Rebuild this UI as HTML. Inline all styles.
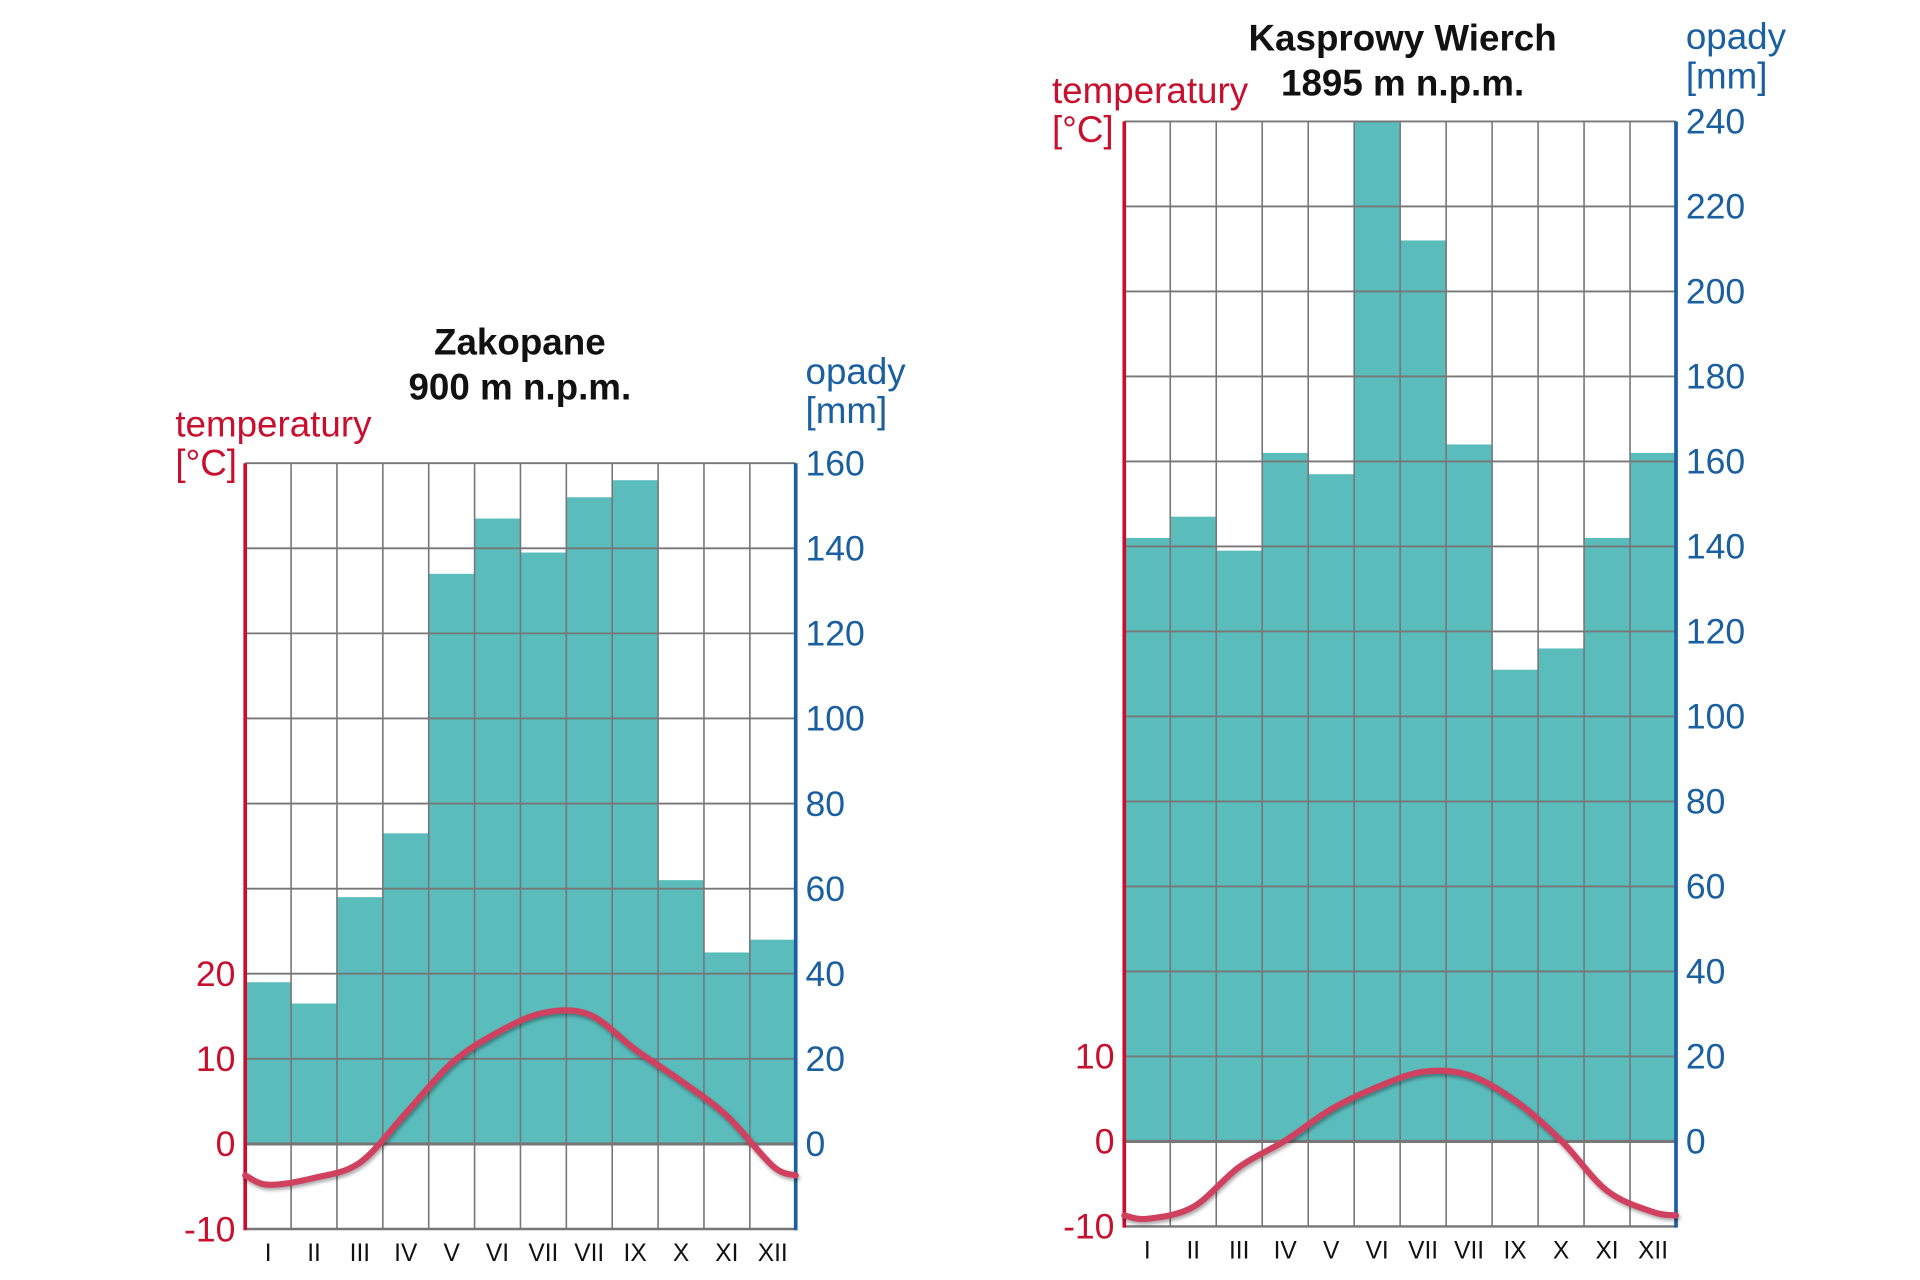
<!DOCTYPE html>
<html><head><meta charset="utf-8"><style>
html,body{margin:0;padding:0;background:#fff;}
svg{display:block;font-family:"Liberation Sans",sans-serif;}
</style></head><body>
<svg id="chart" width="1920" height="1280" viewBox="0 0 1566 1044" preserveAspectRatio="none" xmlns="http://www.w3.org/2000/svg">
<defs><filter id="sh" x="-5%" y="-20%" width="110%" height="140%"><feDropShadow dx="1" dy="2" stdDeviation="1.5" flood-color="#000" flood-opacity="0.35"/></filter></defs>
</svg>
<script>
const months = ["I","II","III","IV","V","VI","VII","VII","IX","X","XI","XII"];
const zakPrecip = [38, 33, 58, 73, 134, 147, 139, 152, 156, 62, 45, 48];
const zakTemp = [-4.8, -4.0, -2.2, 3.6, 9.5, 13.1, 15.4, 15.2, 11.1, 7.4, 3.3, -2.6];
const zakPrecipTicks = [0, 20, 40, 60, 80, 100, 120, 140, 160];
const zakTempTicks = [-10, 0, 10, 20];
const kasPrecip = [142, 147, 139, 162, 157, 240, 212, 164, 111, 116, 142, 162];
const kasTemp = [-9.1, -7.7, -3.0, 0.1, 3.8, 6.4, 8.2, 7.8, 4.8, 0.1, -5.8, -8.3];
const kasPrecipTicks = [0, 20, 40, 60, 80, 100, 120, 140, 160, 180, 200, 220, 240];
const kasTempTicks = [-10, 0, 10];

const NS = "http://www.w3.org/2000/svg";
const svg = document.getElementById("chart");
function mk(tag, attrs, parent){const e=document.createElementNS(NS,tag);for(const k in attrs)e.setAttribute(k,attrs[k]);(parent||svg).appendChild(e);return e;}

function drawChart(cfg){
  const g = mk("g",{});
  
  
  const L=cfg.left,R=cfg.right,y0=cfg.y0,pxPer=cfg.pxPer20/20;
  const maxMm=cfg.pTicks[cfg.pTicks.length-1];
  const top=y0-maxMm*pxPer, bottom=y0+20*pxPer;
  const cw=(R-L)/12;
  const yP=v=>y0-v*pxPer;
  const yT=t=>y0-t*2*pxPer;
  const xC=i=>L+cw*(i+0.5);
  cfg.precip.forEach((v,i)=>{
    const r=mk("rect",{x:L+cw*i,y:yP(v),width:cw,height:v*pxPer,fill:"#5bbcbc"},g);
    
    
  });
  for(let i=1;i<12;i++) mk("line",{x1:L+cw*i,x2:L+cw*i,y1:top,y2:bottom,stroke:"#777","stroke-width":1.3},g);
  cfg.pTicks.forEach(v=>mk("line",{x1:L,x2:R,y1:yP(v),y2:yP(v),stroke:"#777","stroke-width":v===0?2.5:1.5},g));
  mk("line",{x1:L,x2:R,y1:bottom,y2:bottom,stroke:"#777","stroke-width":2},g);
  const la=mk("line",{x1:L,x2:L,y1:top,y2:bottom+1,stroke:"#c8102e","stroke-width":3},g);
  
  const ra=mk("line",{x1:R,x2:R,y1:top,y2:bottom+1,stroke:"#1a5fa0","stroke-width":3},g);
  
  const t=cfg.temp;
  const endL=(t[0]+t[11])/2, endR=endL;
  const pts=[[L,yT(endL)]].concat(t.map((v,i)=>[xC(i),yT(v)])).concat([[R,yT(endR)]]);
  let d="M"+pts[0][0]+","+pts[0][1];
  for(let i=0;i<pts.length-1;i++){
    const p0=pts[Math.max(0,i-1)],p1=pts[i],p2=pts[i+1],p3=pts[Math.min(pts.length-1,i+2)];
    const c1=[p1[0]+(p2[0]-p0[0])/6,p1[1]+(p2[1]-p0[1])/6];
    const c2=[p2[0]-(p3[0]-p1[0])/6,p2[1]-(p3[1]-p1[1])/6];
    d+=" C"+c1+" "+c2+" "+p2;
  }
  const c=mk("path",{d:d,fill:"none",stroke:"#d0405e","stroke-width":5,"stroke-linecap":"round",filter:"url(#sh)"},g);
  
  cfg.pTicks.forEach(v=>{
    const tx=mk("text",{x:R+8,y:yP(v)+10,"font-size":29,fill:"#1a5fa0"},g);tx.textContent=v;
    
  });
  cfg.tTicks.forEach(v=>{
    const tx=mk("text",{x:L-8,y:yT(v)+10,"font-size":29,fill:"#c8102e","text-anchor":"end"},g);tx.textContent=v;
    
  });
  months.forEach((m,i)=>{
    const tx=mk("text",{x:xC(i),y:bottom+26,"font-size":20,fill:"#111","text-anchor":"middle"},g);tx.textContent=m;
    
  });
  const tl=[["temperatury",cfg.tLab[0],cfg.tLab[1]],["[°C]",cfg.tLab[0],cfg.tLab[1]+32]];
  tl.forEach(a=>{const tx=mk("text",{x:a[1],y:a[2],"font-size":30,fill:"#c8102e"},g);tx.textContent=a[0];
    });
  [["opady",0],["[mm]",32]].forEach(a=>{const tx=mk("text",{x:R+8,y:cfg.pLab+a[1],"font-size":30,fill:"#1a5fa0"},g);tx.textContent=a[0];
    });
  cfg.title.forEach((s,i)=>{const tx=mk("text",{x:cfg.titleX,y:cfg.titleY+i*37,"font-size":30,"font-weight":"bold",fill:"#111","text-anchor":"middle"},g);tx.textContent=s;
    });
}
drawChart({name:"zakopane-chart",left:200,right:649,y0:933,pxPer20:69.4,precip:zakPrecip,temp:zakTemp,pTicks:zakPrecipTicks,tTicks:zakTempTicks,
  tLab:[143,356],pLab:313,title:["Zakopane","900 m n.p.m."],titleX:424,titleY:289});
drawChart({name:"kasprowy-chart",left:917,right:1367,y0:931,pxPer20:69.33,precip:kasPrecip,temp:kasTemp,pTicks:kasPrecipTicks,tTicks:kasTempTicks,
  tLab:[858,84],pLab:40,title:["Kasprowy Wierch","1895 m n.p.m."],titleX:1144,titleY:41});
</script>
</body></html>
